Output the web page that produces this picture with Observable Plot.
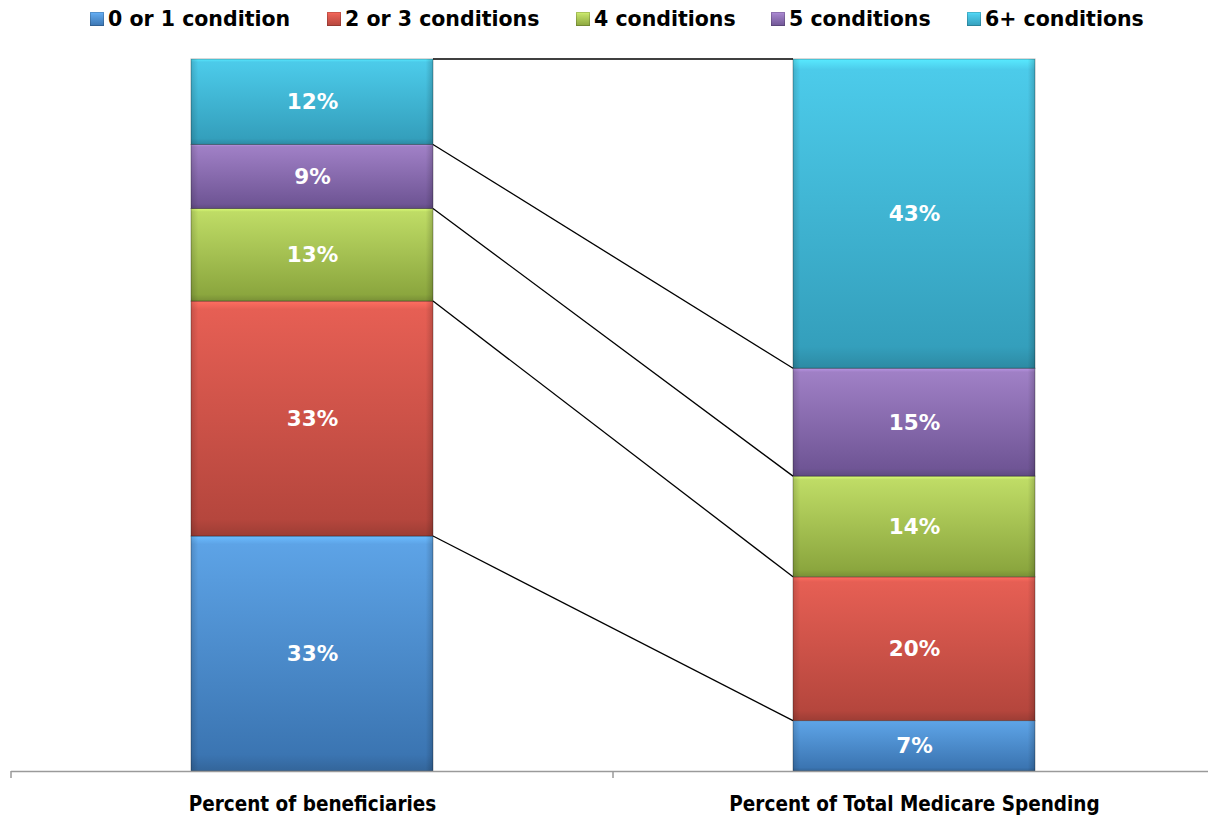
<!DOCTYPE html>
<html>
<head>
<meta charset="utf-8">
<script src="https://cdn.jsdelivr.net/npm/d3@7"></script>
<script src="https://cdn.jsdelivr.net/npm/@observablehq/plot@0.6"></script>
<style>
  html, body { margin: 0; padding: 0; background: #fff; }
  #legend { position: relative; height: 42px; font-family: "DejaVu Sans", sans-serif; font-weight: bold; font-size: 20.5px; color: #000; }
  .item { position: absolute; top: 7px; display: flex; align-items: center; white-space: nowrap; }
  .sw { width: 14px; height: 14px; margin-right: 4px; box-shadow: inset 0 0 0 1px rgba(0,0,0,0.18); }
</style>
</head>
<body>
<div id="legend"></div>
<div id="chart"></div>
<script>
const categories = ["Percent of beneficiaries", "Percent of Total Medicare Spending"];
const series = ["0 or 1 condition", "2 or 3 conditions", "4 conditions", "5 conditions", "6+ conditions"];
const beneficiaries = [33, 33, 13, 9, 12];
const spending = [7, 20, 14, 15, 43];
const topColors = ["#5da3e6", "#e65f54", "#bfdc66", "#a080c6", "#4ccbea"];
const bottomColors = ["#3b75b2", "#b5463d", "#8ba63e", "#6f5595", "#349fbc"];
const legendX = [90, 327, 576, 771, 967];

const data = [];
series.forEach((s, i) => {
  data.push({cat: categories[0], series: s, value: beneficiaries[i]});
  data.push({cat: categories[1], series: s, value: spending[i]});
});

// legend
const legend = document.getElementById("legend");
series.forEach((s, i) => {
  const it = document.createElement("div");
  it.className = "item";
  it.style.left = legendX[i] + "px";
  const sw = document.createElement("span");
  sw.className = "sw";
  sw.style.background = `linear-gradient(${d3.color(topColors[i]).brighter(0.3)}, ${topColors[i]} 20%, ${bottomColors[i]})`;
  const t = document.createElement("span");
  t.textContent = s;
  it.appendChild(sw); it.appendChild(t);
  legend.appendChild(it);
});

// cumulative boundaries (normalized) for connectors
function cum(vals) {
  const tot = d3.sum(vals); let c = 0;
  return vals.map(v => (c += v) / tot);
}
const cumL = cum(beneficiaries), cumR = cum(spending);

const connectors = (index, scales, values, dims) => {
  const x = scales.x, y = scales.y;
  const bw = x.bandwidth();
  const step = x.step();
  const g = d3.create("svg:g");
  const xl = x(categories[0]) + bw, xr = x(categories[1]);
  series.forEach((s, i) => {
    g.append("line")
      .attr("x1", xl).attr("y1", y(cumL[i]))
      .attr("x2", xr).attr("y2", y(cumR[i]))
      .attr("stroke", "#000").attr("stroke-width", 1.3);
  });
  // axis boundary ticks
  categories.forEach(c => {
    const bx = x(c) - (step - bw) / 2;
    g.append("line")
      .attr("x1", bx).attr("x2", bx)
      .attr("y1", y(0)).attr("y2", y(0) + 7)
      .attr("stroke", "#9a9a9a").attr("stroke-width", 1.5);
  });
  return g.node();
};

const gradients = () => {
  const defs = d3.create("svg:defs");
  series.forEach((s, i) => {
    const lg = defs.append("linearGradient").attr("id", "g" + i)
      .attr("x1", 0).attr("y1", 0).attr("x2", 0).attr("y2", 1);
    lg.append("stop").attr("offset", 0).attr("stop-color", d3.color(topColors[i]).brighter(0.4));
    lg.append("stop").attr("offset", 0.035).attr("stop-color", topColors[i]);
    lg.append("stop").attr("offset", 0.93).attr("stop-color", bottomColors[i]);
    lg.append("stop").attr("offset", 1).attr("stop-color", d3.color(bottomColors[i]).darker(0.4));
  });
  const side = defs.append("linearGradient").attr("id", "side")
    .attr("x1", 0).attr("y1", 0).attr("x2", 1).attr("y2", 0);
  side.append("stop").attr("offset", 0).attr("stop-color", "#000").attr("stop-opacity", 0.14);
  side.append("stop").attr("offset", 0.03).attr("stop-color", "#000").attr("stop-opacity", 0);
  side.append("stop").attr("offset", 0.97).attr("stop-color", "#000").attr("stop-opacity", 0);
  side.append("stop").attr("offset", 1).attr("stop-color", "#000").attr("stop-opacity", 0.18);
  return defs.node();
};

const stackOpts = {offset: "normalize", order: series, x: "cat", y: "value", z: "series"};

const plot = Plot.plot({
  width: 1208,
  height: 777,
  marginTop: 17,
  marginBottom: 48,
  marginLeft: 11,
  marginRight: 0,
  style: {fontFamily: "'DejaVu Sans Condensed', 'DejaVu Sans', sans-serif", fontWeight: "bold", fontSize: "20.5px", color: "#000", background: "#fff"},
  x: {domain: categories, range: [11, 1215], paddingInner: 0.598, paddingOuter: 0.299, label: null, tickSize: 0, tickPadding: 25},
  y: {domain: [0, 1], axis: null},
  color: {type: "ordinal", domain: series, range: series.map((s, i) => `url(#g${i})`)},
  marks: [
    gradients,
    Plot.barY(data, Plot.stackY({...stackOpts, fill: "series", stroke: "rgba(0,0,0,0.3)", strokeWidth: 1})),
    Plot.barY(data, Plot.stackY({...stackOpts, fill: "url(#side)"})),
    Plot.ruleY([0], {stroke: "#9a9a9a", strokeWidth: 1.5}),
    connectors,
    Plot.text(data, Plot.stackY({...stackOpts, text: d => d.value + "%", fill: "#fff", fontFamily: "DejaVu Sans, sans-serif", fontWeight: "bold", fontSize: 21.5}))
  ]
});
document.getElementById("chart").appendChild(plot);
</script>
</body>
</html>
